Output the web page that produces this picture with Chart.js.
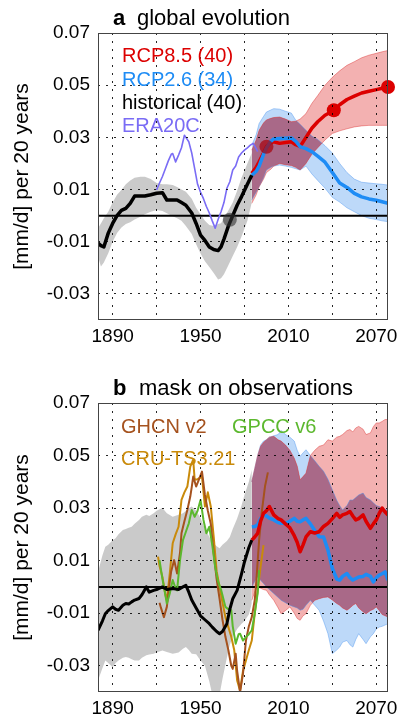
<!DOCTYPE html>
<html>
<head>
<meta charset="utf-8">
<script src="https://cdn.jsdelivr.net/npm/chart.js@4.4.1/dist/chart.umd.min.js"></script>
<style>
  body { margin: 0; background: #fff; }
  .panel { position: absolute; left: 0; width: 397px; height: 360px; }
</style>
</head>
<body>
<div class="panel" style="top:0"><canvas id="chartA" width="397" height="360"></canvas></div>
<div class="panel" style="top:360px"><canvas id="chartB" width="397" height="360"></canvas></div>
<script>
// axes
const xMin = 1880, xMax = 2078;
const xGrid = [1890, 1920, 1950, 1980, 2010, 2040, 2070];
const xLabels = [1890, 1950, 2010, 2070];
const yMin = -0.04, yMax = 0.07;
const yTicks = [-0.03, -0.01, 0.01, 0.03, 0.05, 0.07];
const zeroLevel = 0;

const namesA = ['RCP8.5 (40)', 'RCP2.6 (34)', 'historical (40)', 'ERA20C'];
const namesB = ['GHCN v2', 'GPCC v6', 'CRU-TS3.21'];

// ---- panel a: global evolution ----
const histYearsA = [1880, 1882, 1884, 1887, 1890, 1893, 1896, 1899, 1902, 1905, 1909, 1912, 1916, 1920, 1924, 1927, 1931, 1934, 1937, 1940, 1944, 1947, 1950, 1953, 1956, 1959, 1962, 1964, 1966, 1969, 1972, 1975, 1978, 1982, 1985];
const histMeanA = [-0.0105, -0.0115, -0.012, -0.0067, -0.003, 0.0, 0.002, 0.0028, 0.0047, 0.0075, 0.0075, 0.0075, 0.008, 0.0086, 0.0088, 0.006, 0.006, 0.006, 0.005, 0.004, 0.001, -0.003, -0.0075, -0.0095, -0.012, -0.013, -0.0134, -0.012, -0.009, -0.004, 0.0, 0.004, 0.0073, 0.012, 0.0155];
const histUpA = [-0.0048, -0.003, -0.001, 0.0015, 0.005, 0.008, 0.0098, 0.012, 0.0135, 0.0145, 0.0149, 0.0149, 0.014, 0.0125, 0.012, 0.012, 0.0117, 0.011, 0.01, 0.0092, 0.0065, 0.003, 0.0005, -0.002, -0.0036, -0.004, -0.0032, -0.0029, -0.001, 0.002, 0.005, 0.0095, 0.0145, 0.02, 0.024];
const histLoA = [-0.0157, -0.0195, -0.018, -0.0144, -0.01, -0.0067, -0.0045, -0.0032, -0.0025, -0.0015, -0.0004, 0.0005, 0.0015, 0.0022, 0.0018, 0.0009, -0.0002, -0.001, -0.002, -0.004, -0.007, -0.011, -0.0145, -0.0175, -0.0197, -0.022, -0.0245, -0.024, -0.0225, -0.019, -0.0155, -0.012, -0.008, -0.002, 0.005];

const eraYears = [1920, 1922, 1924, 1926, 1928, 1930, 1931, 1933, 1935, 1937, 1939, 1940, 1942, 1944, 1946, 1948, 1950, 1952, 1954, 1956, 1958, 1960, 1962, 1964, 1966, 1968, 1970, 1972, 1974, 1976, 1978, 1980, 1982, 1984, 1986, 1988, 1989];
const eraVals = [0.0098, 0.0125, 0.015, 0.018, 0.021, 0.0235, 0.0238, 0.0206, 0.0232, 0.026, 0.0308, 0.030, 0.0283, 0.024, 0.018, 0.012, 0.009, 0.0065, 0.0035, 0.001, -0.002, -0.0048, -0.0015, 0.0015, 0.005, 0.0105, 0.013, 0.0175, 0.019, 0.0225, 0.024, 0.0251, 0.026, 0.027, 0.0277, 0.0257, 0.0245];

const projYearsA = [1985, 1988, 1990, 1993, 1995, 1998, 2000, 2004, 2008, 2012, 2015, 2018, 2022, 2026, 2030, 2035, 2040, 2045, 2050, 2055, 2060, 2065, 2070, 2074, 2078];
const rcp85A = [0.0162, 0.0185, 0.0206, 0.024, 0.0264, 0.028, 0.0283, 0.0277, 0.028, 0.0283, 0.0272, 0.0265, 0.030, 0.0335, 0.036, 0.0385, 0.040, 0.0425, 0.0445, 0.0458, 0.047, 0.0477, 0.0483, 0.0488, 0.0493];
const rcp85UpA = [0.0251, 0.029, 0.0327, 0.0355, 0.0367, 0.0373, 0.0376, 0.0378, 0.037, 0.036, 0.0362, 0.037, 0.0391, 0.043, 0.046, 0.050, 0.053, 0.0555, 0.0576, 0.059, 0.0605, 0.0615, 0.0622, 0.0628, 0.0633];
const rcp85LoA = [0.0047, 0.008, 0.0111, 0.014, 0.0165, 0.0178, 0.019, 0.02, 0.0195, 0.0192, 0.0185, 0.0175, 0.020, 0.0235, 0.026, 0.029, 0.0315, 0.0325, 0.0333, 0.034, 0.0344, 0.0346, 0.0346, 0.0346, 0.0346];
const rcp26A = [0.0155, 0.017, 0.019, 0.0235, 0.026, 0.0285, 0.0294, 0.0296, 0.0297, 0.0298, 0.0285, 0.0264, 0.0257, 0.0245, 0.0228, 0.0205, 0.0165, 0.0125, 0.0108, 0.0085, 0.0072, 0.0064, 0.0059, 0.0053, 0.0047];
const rcp26UpA = [0.027, 0.031, 0.0353, 0.038, 0.0397, 0.0405, 0.041, 0.0408, 0.040, 0.0393, 0.0366, 0.035, 0.0327, 0.0305, 0.0292, 0.0268, 0.024, 0.02, 0.0165, 0.014, 0.0128, 0.0125, 0.0122, 0.012, 0.0117];
const rcp26LoA = [0.006, 0.009, 0.0111, 0.0145, 0.0175, 0.0185, 0.019, 0.0194, 0.019, 0.0185, 0.018, 0.0175, 0.019, 0.016, 0.0135, 0.0105, 0.007, 0.0052, 0.003, 0.0015, 0.0, -0.001, -0.0015, -0.002, -0.0023];

const dotYearsA = [1970, 1995, 2041, 2078];
const dotValsA = [-0.0016, 0.0264, 0.0404, 0.0493];

// ---- panel b: mask on observations ----
const histYearsB = [1880, 1883, 1885, 1887, 1890, 1892, 1894, 1897, 1899, 1901, 1903, 1905, 1908, 1910, 1913, 1915, 1918, 1920, 1924, 1927, 1931, 1935, 1938, 1940, 1942, 1944, 1947, 1950, 1953, 1956, 1958, 1961, 1963, 1965, 1968, 1970, 1972, 1975, 1978, 1980, 1983, 1985];
const histMeanB = [-0.0165, -0.013, -0.0102, -0.009, -0.0076, -0.0085, -0.0089, -0.007, -0.0063, -0.0065, -0.0057, -0.005, -0.0044, -0.003, 0.0, -0.002, -0.0013, -0.001, 0.0, -0.001, -0.0006, -0.001, 0.0, 0.0006, -0.002, -0.005, -0.008, -0.011, -0.0125, -0.014, -0.0153, -0.017, -0.0178, -0.017, -0.014, -0.0085, -0.0045, -0.0013, 0.005, 0.0095, 0.015, 0.0178];
const histUpB = [0.0057, 0.012, 0.0153, 0.016, 0.0178, 0.0185, 0.02, 0.0217, 0.022, 0.0225, 0.0229, 0.024, 0.0255, 0.0267, 0.0275, 0.027, 0.028, 0.029, 0.030, 0.028, 0.0267, 0.0275, 0.028, 0.029, 0.030, 0.0306, 0.029, 0.0262, 0.022, 0.0191, 0.017, 0.0155, 0.0147, 0.016, 0.0175, 0.019, 0.022, 0.026, 0.031, 0.035, 0.04, 0.0446];
const histLoB = [-0.0356, -0.031, -0.028, -0.029, -0.0306, -0.029, -0.028, -0.027, -0.0267, -0.027, -0.0275, -0.028, -0.028, -0.027, -0.026, -0.0257, -0.0254, -0.025, -0.0242, -0.0248, -0.0254, -0.025, -0.0235, -0.0229, -0.024, -0.0254, -0.0256, -0.028, -0.030, -0.036, -0.041, -0.044, -0.041, -0.035, -0.027, -0.022, -0.019, -0.016, -0.014, -0.013, -0.0105, -0.0063];

const ghcnYears = [1922, 1923, 1925, 1927, 1929, 1930, 1932, 1934, 1936, 1937, 1939, 1941, 1943, 1944, 1945, 1947, 1949, 1951, 1953, 1955, 1957, 1959, 1961, 1963, 1965, 1967, 1969, 1971, 1972, 1974, 1975, 1977, 1979, 1981, 1983, 1985, 1987, 1988, 1990, 1992, 1994, 1996];
const ghcnVals = [-0.006, -0.008, -0.0115, -0.0076, 0.002, 0.006, 0.0102, 0.0051, 0.013, 0.0204, 0.025, 0.0293, 0.0344, 0.038, 0.042, 0.0382, 0.041, 0.0439, 0.035, 0.029, 0.024, 0.0128, 0.003, -0.0045, -0.0125, -0.019, -0.024, -0.030, -0.0312, -0.0254, -0.032, -0.040, -0.033, -0.0204, -0.015, -0.0115, -0.005, 0.0013, 0.0178, 0.0293, 0.0382, 0.0436];
const cruYears = [1921, 1922, 1924, 1926, 1927, 1929, 1931, 1933, 1935, 1937, 1939, 1941, 1943, 1945, 1946, 1948, 1951, 1953, 1955, 1957, 1959, 1961, 1963, 1965, 1967, 1969, 1971, 1973, 1975, 1977, 1979, 1981, 1983, 1985, 1987, 1989, 1991, 1993];
const cruVals = [0.0115, 0.008, 0.0038, -0.003, -0.0051, 0.0051, 0.0166, 0.02, 0.0229, 0.0331, 0.036, 0.0382, 0.0458, 0.0484, 0.0408, 0.041, 0.042, 0.0306, 0.036, 0.0306, 0.0191, 0.006, 0.0, -0.006, -0.0115, -0.0153, -0.019, -0.024, -0.0356, -0.0395, -0.032, -0.028, -0.024, -0.0204, -0.0102, -0.0013, 0.0076, 0.0159];
const gpccYears = [1922, 1924, 1925, 1927, 1929, 1931, 1933, 1934, 1936, 1938, 1940, 1942, 1944, 1946, 1948, 1950, 1952, 1954, 1956, 1958, 1960, 1962, 1964, 1967, 1969, 1971, 1972, 1974, 1976, 1977, 1979, 1981, 1983, 1985, 1987, 1989, 1990];
const gpccVals = [0.0102, 0.003, 0.0, -0.0063, -0.0025, 0.0026, -0.0005, -0.0013, 0.0102, 0.0178, 0.021, 0.0242, 0.0293, 0.0267, 0.029, 0.0331, 0.0255, 0.0204, 0.0229, 0.016, 0.0076, 0.002, -0.001, -0.0076, -0.0085, -0.0089, -0.015, -0.0216, -0.018, -0.0178, -0.0204, -0.0191, -0.018, -0.0165, -0.0102, -0.0025, 0.0064];

const projYearsB = [1985, 1987, 1989, 1991, 1993, 1995, 1997, 2000, 2003, 2005, 2008, 2011, 2014, 2016, 2018, 2020, 2022, 2025, 2028, 2031, 2034, 2037, 2040, 2043, 2045, 2047, 2050, 2052, 2054, 2056, 2058, 2061, 2063, 2066, 2068, 2070, 2072, 2074, 2076, 2078];
const rcp85B = [0.0178, 0.019, 0.0204, 0.025, 0.028, 0.029, 0.0306, 0.0274, 0.026, 0.0255, 0.024, 0.0225, 0.0195, 0.017, 0.0134, 0.016, 0.019, 0.021, 0.0205, 0.021, 0.023, 0.0242, 0.026, 0.028, 0.0265, 0.0274, 0.028, 0.0287, 0.027, 0.0255, 0.026, 0.0274, 0.025, 0.0223, 0.024, 0.0255, 0.028, 0.030, 0.0285, 0.0274];
const rcp85UpB = [0.040, 0.045, 0.050, 0.0535, 0.055, 0.056, 0.057, 0.0573, 0.056, 0.0555, 0.054, 0.052, 0.049, 0.046, 0.0408, 0.042, 0.0433, 0.050, 0.052, 0.0535, 0.054, 0.056, 0.0555, 0.057, 0.0573, 0.058, 0.0595, 0.0599, 0.059, 0.0605, 0.0611, 0.060, 0.058, 0.0586, 0.061, 0.0624, 0.0624, 0.063, 0.0637, 0.0637];
const rcp85LoB = [-0.0051, -0.002, 0.0, -0.0005, -0.001, -0.0013, -0.003, -0.0051, -0.008, -0.0102, -0.009, -0.0076, -0.01, -0.012, -0.0127, -0.011, -0.0102, -0.007, -0.0051, -0.0045, -0.004, -0.0038, -0.005, -0.0063, -0.007, -0.008, -0.0089, -0.008, -0.007, -0.0063, -0.008, -0.0095, -0.0102, -0.009, -0.0085, -0.0076, -0.009, -0.0105, -0.011, -0.0115];
const rcp26B = [0.0229, 0.023, 0.0236, 0.026, 0.0274, 0.027, 0.0262, 0.0255, 0.0245, 0.0242, 0.0242, 0.025, 0.0261, 0.025, 0.0248, 0.0255, 0.0261, 0.024, 0.0215, 0.0191, 0.019, 0.014, 0.007, 0.003, 0.0026, 0.004, 0.0051, 0.0035, 0.0026, 0.0032, 0.0038, 0.004, 0.0048, 0.004, 0.0019, 0.0035, 0.0045, 0.005, 0.0057, 0.0026];
const rcp26UpB = [0.040, 0.045, 0.050, 0.054, 0.0555, 0.056, 0.057, 0.0575, 0.058, 0.0595, 0.058, 0.057, 0.0555, 0.052, 0.0497, 0.051, 0.0522, 0.050, 0.048, 0.0459, 0.044, 0.041, 0.037, 0.033, 0.031, 0.0293, 0.031, 0.0331, 0.0331, 0.034, 0.035, 0.0357, 0.034, 0.0331, 0.032, 0.031, 0.0306, 0.030, 0.0295, 0.0293];
const rcp26LoB = [0.0, 0.002, 0.0038, 0.0025, 0.0013, 0.0, -0.001, -0.0025, -0.004, -0.0051, -0.006, -0.007, -0.0076, -0.008, -0.0089, -0.0085, -0.007, -0.0051, -0.007, -0.0089, -0.013, -0.0178, -0.0254, -0.024, -0.0229, -0.021, -0.0204, -0.022, -0.0229, -0.02, -0.0178, -0.02, -0.0216, -0.019, -0.0178, -0.016, -0.0153, -0.015, -0.0145, -0.014];

const FONT = "'Liberation Sans', Arial, Helvetica, sans-serif";
Chart.defaults.font.family = FONT;
Chart.defaults.color = '#000';

const RED = '#dc0000', BLUE = '#1e8cf5', BLACK = '#000000', ERA = '#7a6cf5';
const GHCN = '#a5521e', GPCC = '#5cb82e', CRU = '#c98a0a';
const redBand = 'rgba(225,60,60,0.4)', redEdge = 'rgba(220,50,50,0.45)';
const blueBand = 'rgba(90,160,240,0.4)', blueEdge = 'rgba(80,150,240,0.45)';
const grayBand = 'rgba(150,150,150,0.5)';
const overlapColor = 'rgba(165,100,132,0.9)';

const pts = (xs, ys) => xs.map((x, i) => ({ x: x, y: ys[i] }));

function line(xs, ys, color, width) {
    return { data: pts(xs, ys), borderColor: color, borderWidth: width, pointRadius: 0,
             fill: false, borderJoinStyle: 'round' };
}

function band(xs, up, lo, color, edge, key) {
    return [
        { data: pts(xs, up), fill: '+1', backgroundColor: color, borderColor: edge,
          borderWidth: edge ? 1 : 0, pointRadius: 0, bandKey: key + 'Up' },
        { data: pts(xs, lo), fill: false, borderColor: edge || 'rgba(0,0,0,0)',
          borderWidth: edge ? 1 : 0, pointRadius: 0, bandKey: key + 'Lo' }
    ];
}

function zeroLine() {
    return line([xMin, xMax], [zeroLevel, zeroLevel], BLACK, 2);
}

function bandPath(ctx, up, lo) {
    ctx.beginPath();
    up.forEach((p, i) => i ? ctx.lineTo(p.x, p.y) : ctx.moveTo(p.x, p.y));
    for (let i = lo.length - 1; i >= 0; i--) ctx.lineTo(lo[i].x, lo[i].y);
    ctx.closePath();
}

// darker fill where the two scenario spreads overlap
const overlapPlugin = {
    id: 'overlap',
    beforeDatasetsDraw(chart, args, o) {
        const find = key => chart.getDatasetMeta(chart.data.datasets.findIndex(d => d.bandKey === key)).data;
        const ctx = chart.ctx, a = chart.chartArea;
        ctx.save();
        ctx.beginPath();
        ctx.rect(a.left, a.top, a.right - a.left, a.bottom - a.top);
        ctx.clip();
        bandPath(ctx, find('blueUp'), find('blueLo'));
        ctx.clip();
        bandPath(ctx, find('redUp'), find('redLo'));
        ctx.fillStyle = o.color;
        ctx.fill();
        ctx.restore();
    }
};

// panel title, coloured legend words and the axes box
const panelText = {
    id: 'panelText',
    afterDraw(chart, args, o) {
        const ctx = chart.ctx, a = chart.chartArea;
        ctx.save();
        ctx.strokeStyle = '#444';
        ctx.lineWidth = 1;
        ctx.strokeRect(a.left + 0.5, a.top + 0.5, a.right - a.left - 1, a.bottom - a.top - 1);
        ctx.textAlign = 'left';
        ctx.textBaseline = 'alphabetic';
        ctx.fillStyle = '#000';
        ctx.font = 'bold 22px ' + FONT;
        ctx.fillText(o.letter, 113, o.titleY);
        ctx.font = '22px ' + FONT;
        ctx.fillText(o.title, o.titleX, o.titleY);
        ctx.font = '20px ' + FONT;
        o.items.forEach(it => {
            ctx.fillStyle = it.color;
            ctx.fillText(it.text, it.x, it.y);
        });
        ctx.restore();
    }
};

function makeChart(id, datasets, cfg) {
    const gridOpts = { color: 'rgba(0,0,0,0.85)', lineWidth: 1, drawTicks: false, z: 1 };
    return new Chart(document.getElementById(id), {
        type: 'line',
        data: { datasets: datasets },
        options: {
            responsive: false,
            animation: false,
            layout: { padding: { top: cfg.top, left: 0, right: 9, bottom: 0 } },
            plugins: {
                legend: { display: false },
                tooltip: { enabled: false },
                filler: { drawTime: 'beforeDatasetsDraw' },
                overlap: { color: overlapColor },
                panelText: cfg.text
            },
            scales: {
                x: {
                    type: 'linear', min: xMin, max: xMax,
                    afterBuildTicks: s => { s.ticks = xGrid.map(v => ({ value: v })); },
                    afterFit: s => { s.height = cfg.axisHeight; s.paddingLeft = 0; s.paddingRight = 0; },
                    ticks: { autoSkip: false, maxRotation: 0, padding: 5, font: { size: 19 },
                             callback: v => xLabels.includes(v) ? String(v) : '' },
                    grid: gridOpts,
                    border: { display: false, dash: [2, 6] }
                },
                y: {
                    min: yMin, max: yMax,
                    afterBuildTicks: s => { s.ticks = yTicks.map(v => ({ value: v })); },
                    afterFit: s => { s.width = 98; s.paddingTop = 0; s.paddingBottom = 0; },
                    ticks: { padding: 8, font: { size: 19 }, callback: v => v.toFixed(2) },
                    grid: gridOpts,
                    border: { display: false, dash: [2, 6] },
                    title: { display: true, text: '[mm/d] per 20 years', font: { size: 21 },
                             padding: { top: 10, bottom: 0 } }
                }
            }
        },
        plugins: [overlapPlugin, panelText]
    });
}

const dotsA = {
    data: pts(dotYearsA, dotValsA), showLine: false, pointRadius: 7, pointBorderWidth: 0,
    pointBackgroundColor: ['rgba(50,50,50,0.6)', 'rgba(165,0,10,0.7)', RED, RED], clip: false
};

makeChart('chartA', [
    dotsA,
    line(histYearsA, histMeanA, BLACK, 3.5),
    line(projYearsA, rcp26A, BLUE, 3.5),
    line(projYearsA, rcp85A, RED, 3.5),
    line(eraYears, eraVals, ERA, 1.6),
    zeroLine(),
    ...band(projYearsA, rcp85UpA, rcp85LoA, redBand, redEdge, 'red'),
    ...band(projYearsA, rcp26UpA, rcp26LoA, blueBand, blueEdge, 'blue'),
    ...band(histYearsA, histUpA, histLoA, grayBand, null, 'gray')
], {
    top: 33, axisHeight: 40,
    text: {
        letter: 'a', title: 'global evolution', titleX: 137, titleY: 25,
        items: [
            { text: namesA[0], color: RED, x: 122, y: 62 },
            { text: namesA[1], color: BLUE, x: 122, y: 86 },
            { text: namesA[2], color: BLACK, x: 122, y: 109 },
            { text: namesA[3], color: ERA, x: 122, y: 132 }
        ]
    }
});

makeChart('chartB', [
    line(histYearsB, histMeanB, BLACK, 3),
    line(projYearsB, rcp85B, RED, 3.5),
    line(projYearsB, rcp26B, BLUE, 3.5),
    line(gpccYears, gpccVals, GPCC, 2),
    line(ghcnYears, ghcnVals, GHCN, 2),
    line(cruYears, cruVals, CRU, 2),
    zeroLine(),
    ...band(projYearsB, rcp85UpB, rcp85LoB, redBand, redEdge, 'red'),
    ...band(projYearsB, rcp26UpB, rcp26LoB, blueBand, blueEdge, 'blue'),
    ...band(histYearsB, histUpB, histLoB, grayBand, null, 'gray')
], {
    top: 43, axisHeight: 28,
    text: {
        letter: 'b', title: 'mask on observations', titleX: 139, titleY: 35,
        items: [
            { text: namesB[0], color: GHCN, x: 121, y: 73 },
            { text: namesB[1], color: GPCC, x: 232, y: 73 },
            { text: namesB[2], color: CRU, x: 121, y: 105 }
        ]
    }
});
</script>
</body>
</html>
